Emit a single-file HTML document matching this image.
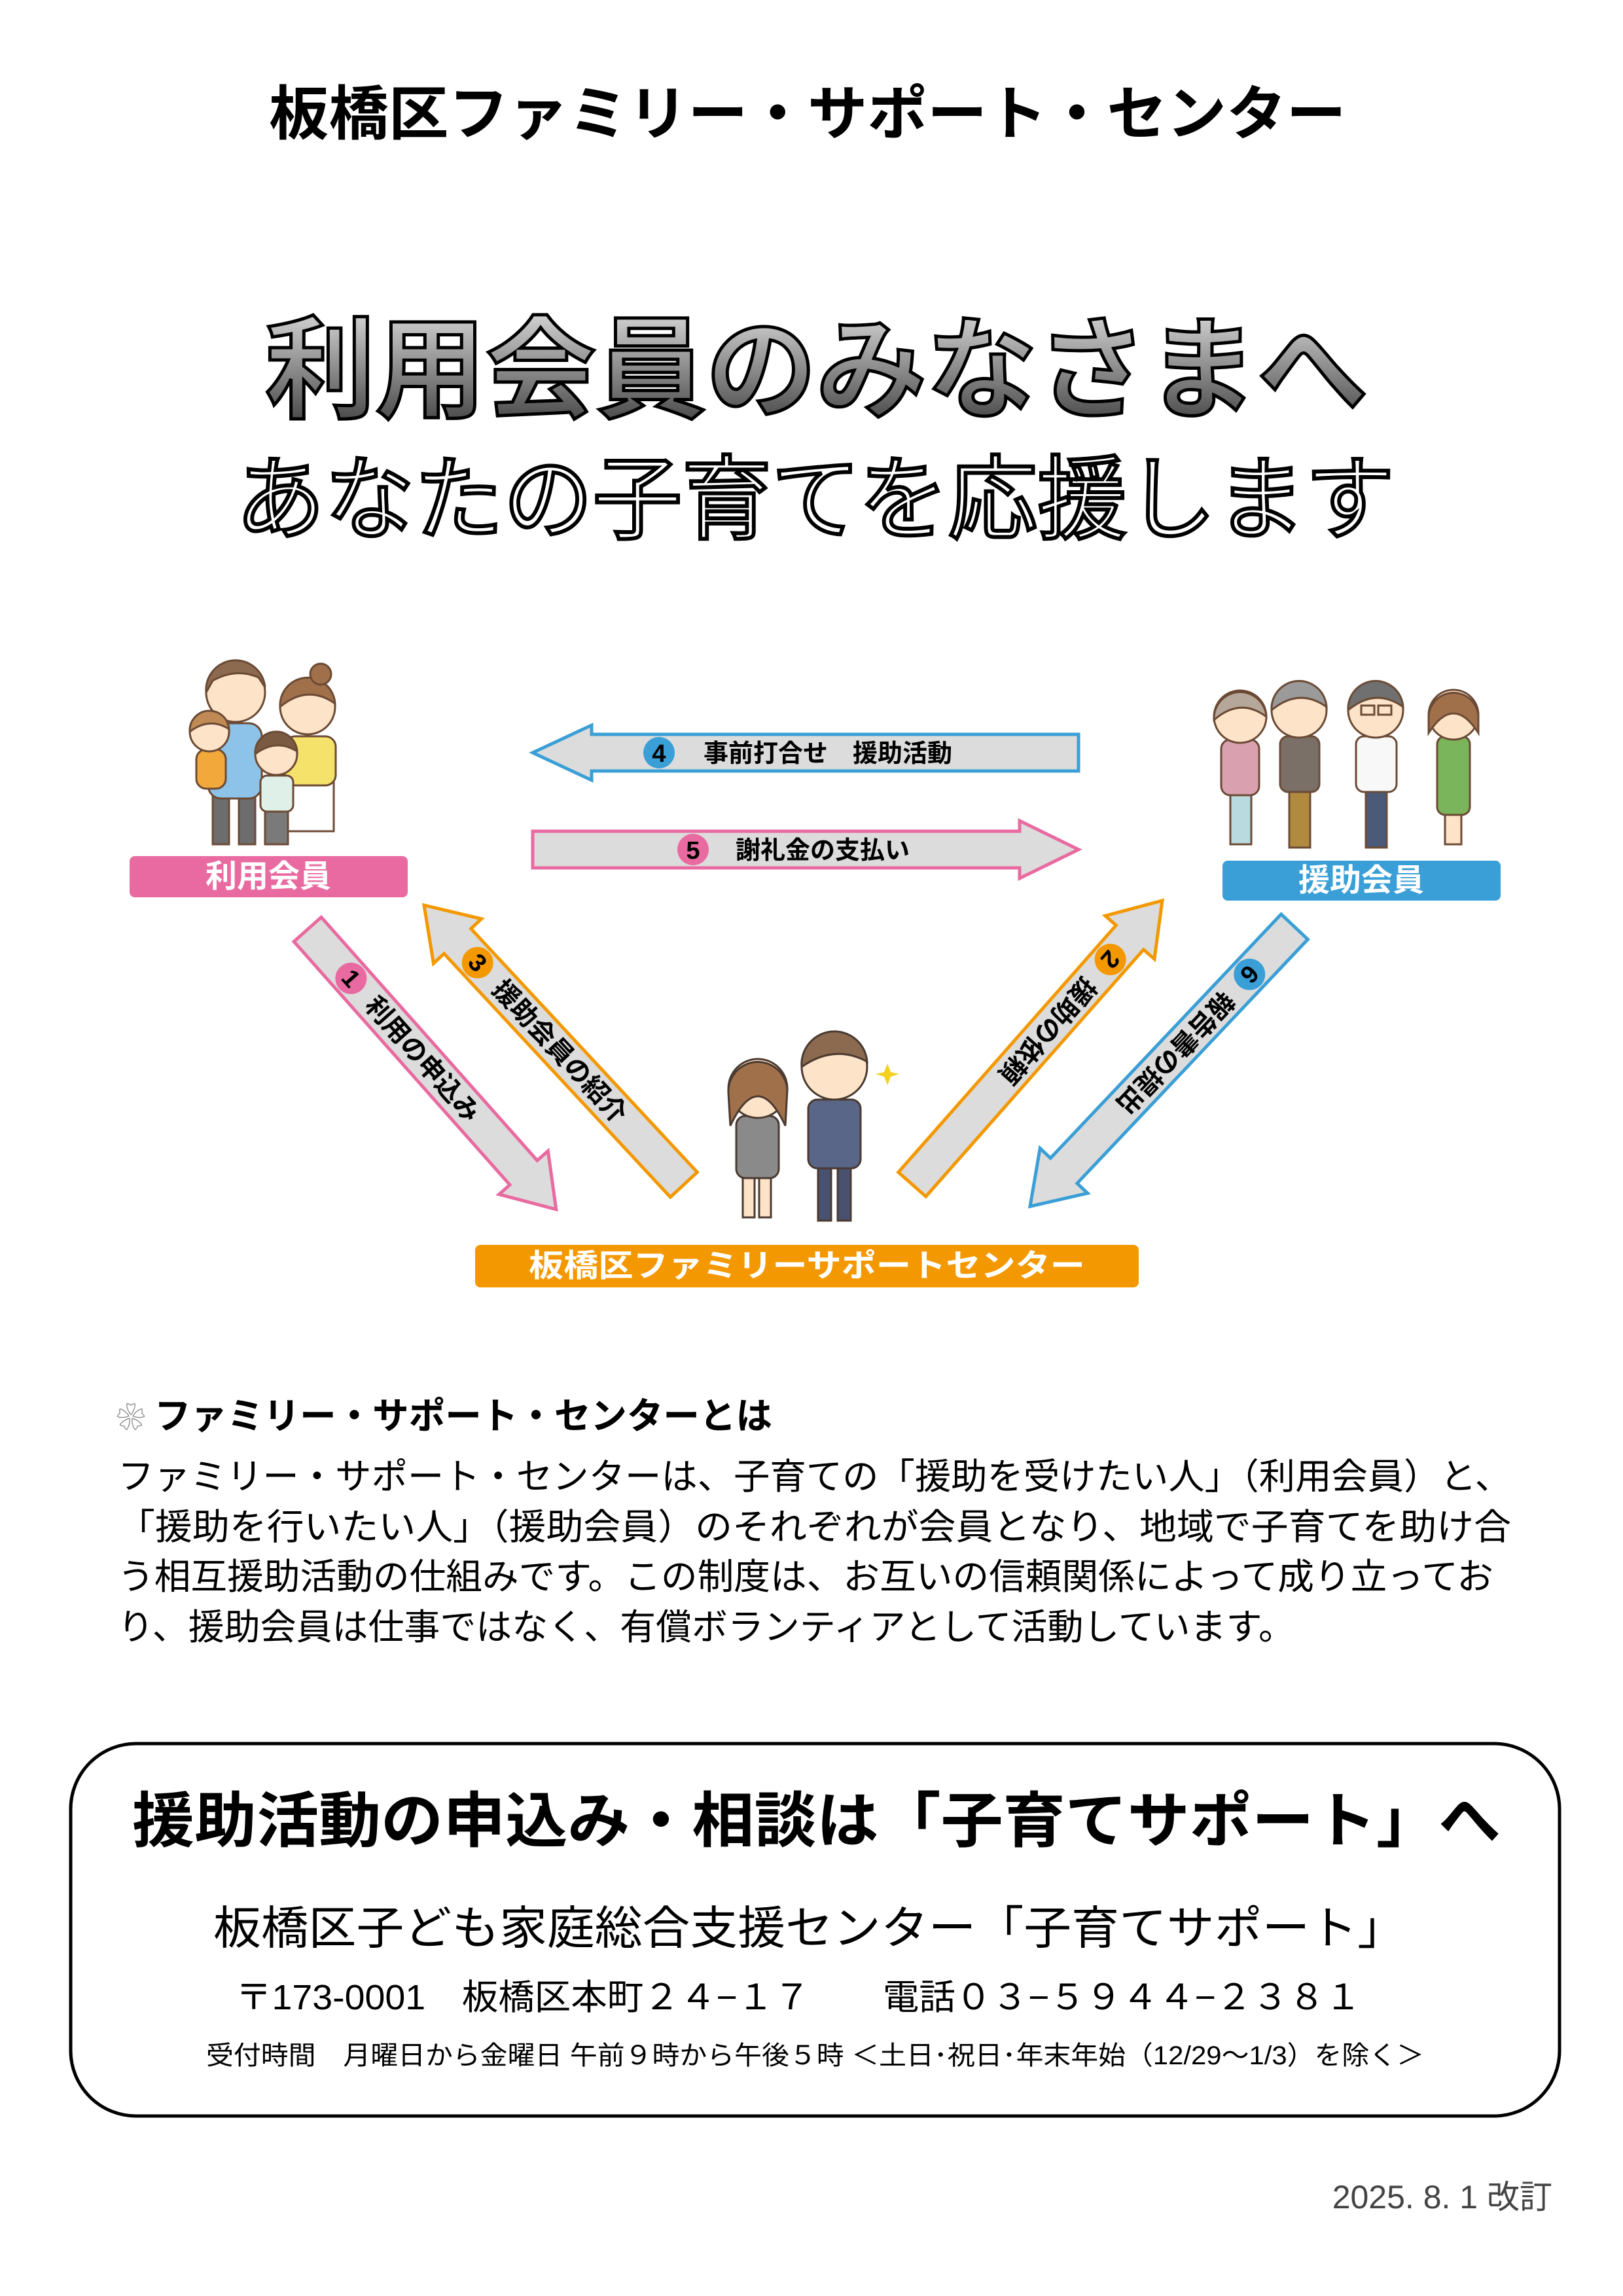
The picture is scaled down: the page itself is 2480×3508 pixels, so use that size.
<!DOCTYPE html>
<html><head><meta charset="utf-8">
<style>
html,body{margin:0;padding:0;background:#fff;}
svg{display:block;}
text{font-family:"Liberation Sans","Noto Sans CJK JP",sans-serif;}
</style></head>
<body>
<svg width="2480" height="3508" viewBox="0 0 2480 3508" xmlns="http://www.w3.org/2000/svg">
<defs>
<linearGradient id="tg" x1="0" y1="0" x2="0" y2="1">
<stop offset="0" stop-color="#d8d8d8"/><stop offset="1" stop-color="#3a3a3a"/>
</linearGradient>
</defs>
<rect width="2480" height="3508" fill="#fff"/>

<text x="1234" y="205" font-size="90" font-weight="bold" text-anchor="middle" textLength="1646" lengthAdjust="spacingAndGlyphs">板橋区ファミリー・サポート・センター</text>

<text x="405" y="625" font-size="170" font-weight="bold" fill="url(#tg)" stroke="#000" stroke-width="5" textLength="1685" lengthAdjust="spacingAndGlyphs">利用会員のみなさまへ</text>
<text x="360" y="812" font-size="140" fill="#fff" stroke="#000" stroke-width="6" textLength="1771" lengthAdjust="spacingAndGlyphs">あなたの子育てを応援します</text>

<polygon points="1648,1122 904,1122 904,1108 814,1150 904,1192 904,1178 1648,1178" fill="#dcdcdc" stroke="#3a9fd6" stroke-width="5"/>
<circle cx="1007" cy="1150" r="24" fill="#3a9fd6"/>
<text x="1007" y="1164" font-size="38" font-weight="bold" text-anchor="middle">4</text>
<text x="1075" y="1164" font-size="38" font-weight="bold">事前打合せ　援助活動</text>

<polygon points="814,1270 1558,1270 1558,1254 1648,1298 1558,1342 1558,1326 814,1326" fill="#dcdcdc" stroke="#e96aa0" stroke-width="5"/>
<circle cx="1059" cy="1298" r="24" fill="#e96aa0"/>
<text x="1059" y="1312" font-size="38" font-weight="bold" text-anchor="middle">5</text>
<text x="1124" y="1312" font-size="38" font-weight="bold">謝礼金の支払い</text>

<g transform="translate(470,1420) rotate(48.4)">
<polygon points="0,-28 497,-28 497,-50 572,0 497,50 497,28 0,28" fill="#dcdcdc" stroke="#e96aa0" stroke-width="5"/>
<circle cx="100" cy="0" r="24" fill="#e96aa0"/>
<text x="100" y="13" font-size="38" font-weight="bold" text-anchor="middle">1</text>
<text x="145" y="14" font-size="40" font-weight="bold">利用の申込み</text>
</g>
<g transform="translate(648,1383) rotate(47.1)">
<polygon points="0,0 75,-50 75,-28 583,-28 583,28 75,28 75,50" fill="#dcdcdc" stroke="#f39800" stroke-width="5"/>
<circle cx="120" cy="0" r="24" fill="#f39800"/>
<text x="120" y="13" font-size="38" font-weight="bold" text-anchor="middle">3</text>
<text x="165" y="14" font-size="40" font-weight="bold">援助会員の紹介</text>
</g>
<g transform="translate(1776,1376) rotate(131.4)">
<polygon points="0,0 75,-50 75,-28 578,-28 578,28 75,28 75,50" fill="#dcdcdc" stroke="#f39800" stroke-width="5"/>
<circle cx="120" cy="0" r="24" fill="#f39800"/>
<text x="120" y="13" font-size="38" font-weight="bold" text-anchor="middle">2</text>
<text x="165" y="14" font-size="40" font-weight="bold">援助の依頼</text>
</g>
<g transform="translate(1978,1416) rotate(133.4)">
<polygon points="0,-28 513,-28 513,-50 588,0 513,50 513,28 0,28" fill="#dcdcdc" stroke="#3a9fd6" stroke-width="5"/>
<circle cx="100" cy="0" r="24" fill="#3a9fd6"/>
<text x="100" y="13" font-size="38" font-weight="bold" text-anchor="middle">6</text>
<text x="145" y="14" font-size="40" font-weight="bold">報告書の提出</text>
</g>

<rect x="198" y="1308" width="425" height="63" rx="8" fill="#e96aa0"/>
<text x="410" y="1355" font-size="48" font-weight="bold" fill="#fff" text-anchor="middle">利用会員</text>
<rect x="1868" y="1315" width="425" height="61" rx="8" fill="#3a9fd6"/>
<text x="2080" y="1361" font-size="48" font-weight="bold" fill="#fff" text-anchor="middle">援助会員</text>
<rect x="726" y="1902" width="1014" height="65" rx="8" fill="#f39800"/>
<text x="1233" y="1950" font-size="48" font-weight="bold" fill="#fff" text-anchor="middle" textLength="850" lengthAdjust="spacingAndGlyphs">板橋区ファミリーサポートセンター</text>

<g stroke="#6b4a35" stroke-width="3">
<rect x="325" y="1210" width="25" height="80" fill="#6d6d6d"/><rect x="365" y="1210" width="25" height="80" fill="#6d6d6d"/>
<rect x="318" y="1105" width="82" height="115" rx="20" fill="#8dc3e8"/>
<circle cx="360" cy="1058" r="45" fill="#fde3c8"/>
<path d="M315,1058 A45,45 0 0 1 405,1050 L395,1035 Q360,1020 325,1040 Z" fill="#8b6a4f"/>
<rect x="440" y="1195" width="70" height="75" fill="#fff"/>
<rect x="435" y="1125" width="78" height="75" rx="16" fill="#f5e26a"/>
<circle cx="470" cy="1080" r="42" fill="#fde3c8"/>
<path d="M428,1080 A42,42 0 0 1 512,1075 Q470,1045 428,1080 Z" fill="#a0704a"/>
<circle cx="490" cy="1030" r="16" fill="#a0704a"/>
<rect x="300" y="1145" width="45" height="60" rx="15" fill="#f2a83a"/>
<circle cx="320" cy="1118" r="30" fill="#fde3c8"/>
<path d="M290,1118 A30,30 0 0 1 350,1114 Q320,1095 290,1118 Z" fill="#c08a55"/>
<rect x="405" y="1235" width="35" height="55" fill="#7a7a7a"/>
<rect x="398" y="1185" width="50" height="55" rx="10" fill="#dff0e8"/>
<circle cx="422" cy="1152" r="32" fill="#fde3c8"/>
<path d="M390,1152 A32,32 0 0 1 454,1148 Q422,1128 390,1152 Z" fill="#7a5a40"/>
</g>

<g stroke="#6b4a35" stroke-width="3">
<rect x="1880" y="1210" width="32" height="80" fill="#b9dbe0"/>
<rect x="1866" y="1130" width="58" height="85" rx="14" fill="#d9a0b0"/>
<circle cx="1895" cy="1095" r="40" fill="#fde3c8"/>
<path d="M1855,1100 A40,40 0 0 1 1935,1095 Q1895,1065 1855,1100 Z" fill="#b5a89a"/>
<rect x="1970" y="1200" width="32" height="95" fill="#b08a3e"/>
<rect x="1956" y="1125" width="60" height="85" rx="12" fill="#7a7068"/>
<circle cx="1985" cy="1085" r="42" fill="#fde3c8"/>
<path d="M1943,1085 A42,42 0 0 1 2027,1080 Q1985,1050 1943,1085 Z" fill="#9a9a9a"/>
<rect x="2087" y="1200" width="32" height="95" fill="#4a5a78"/>
<rect x="2072" y="1125" width="62" height="85" rx="12" fill="#f8f8f8"/>
<circle cx="2102" cy="1085" r="42" fill="#fde3c8"/>
<path d="M2060,1085 A42,42 0 0 1 2144,1080 Q2102,1050 2060,1085 Z" fill="#707070"/>
<rect x="2080" y="1078" width="20" height="14" fill="none"/><rect x="2106" y="1078" width="20" height="14" fill="none"/>
<rect x="2196" y="1125" width="50" height="120" rx="12" fill="#7ab55c"/>
<rect x="2208" y="1245" width="25" height="45" fill="#fde3c8"/>
<circle cx="2221" cy="1092" r="38" fill="#fde3c8"/>
<path d="M2183,1098 A38,38 0 0 1 2259,1095 L2259,1120 Q2221,1060 2183,1120 Z" fill="#a0704a"/>
</g>

<g stroke="#4a3a30" stroke-width="3">
<rect x="1135" y="1790" width="18" height="70" fill="#fde3c8"/><rect x="1160" y="1790" width="18" height="70" fill="#fde3c8"/>
<rect x="1125" y="1705" width="65" height="95" rx="14" fill="#8a8a8a"/>
<circle cx="1158" cy="1663" r="45" fill="#fde3c8"/>
<path d="M1113,1670 A45,45 0 0 1 1203,1665 L1200,1720 Q1158,1630 1116,1720 Z" fill="#a0704a"/>
<rect x="1250" y="1770" width="20" height="95" fill="#4a5070"/><rect x="1280" y="1770" width="20" height="95" fill="#4a5070"/>
<rect x="1235" y="1680" width="80" height="105" rx="14" fill="#5a6688"/>
<circle cx="1275" cy="1630" r="50" fill="#fde3c8"/>
<path d="M1225,1630 A50,50 0 0 1 1325,1622 Q1275,1595 1225,1630 Z" fill="#8b6a4f"/>
</g>
<path d="M1356,1625 L1361,1638 L1374,1641 L1361,1645 L1356,1658 L1351,1645 L1338,1641 L1351,1638 Z" fill="#f5d020"/>

<text x="178" y="2181" font-size="44" fill="#888">❀</text>
<text x="236" y="2183" font-size="56" font-weight="bold" textLength="944" lengthAdjust="spacingAndGlyphs">ファミリー・サポート・センターとは</text>
<g font-size="55">
<text x="180" y="2275" textLength="2129" lengthAdjust="spacingAndGlyphs">ファミリー・サポート・センターは、子育ての「援助を受けたい人」（利用会員）と、</text>
<text x="180" y="2352" textLength="2129" lengthAdjust="spacingAndGlyphs">「援助を行いたい人」（援助会員）のそれぞれが会員となり、地域で子育てを助け合</text>
<text x="180" y="2428" textLength="2102" lengthAdjust="spacingAndGlyphs">う相互援助活動の仕組みです。この制度は、お互いの信頼関係によって成り立ってお</text>
<text x="180" y="2505" textLength="1798" lengthAdjust="spacingAndGlyphs">り、援助会員は仕事ではなく、有償ボランティアとして活動しています。</text>
</g>

<rect x="108" y="2664" width="2275" height="569" rx="100" fill="none" stroke="#000" stroke-width="5"/>
<text x="202" y="2814" font-size="92" font-weight="bold" textLength="2091" lengthAdjust="spacingAndGlyphs">援助活動の申込み・相談は「子育てサポート」へ</text>
<text x="326" y="2970" font-size="70" textLength="1821" lengthAdjust="spacingAndGlyphs">板橋区子ども家庭総合支援センター「子育てサポート」</text>
<text x="360" y="3070" font-size="54" textLength="1720" lengthAdjust="spacingAndGlyphs">〒173-0001　板橋区本町２４−１７　　電話０３−５９４４−２３８１</text>
<text x="315" y="3154" font-size="40" textLength="1861" lengthAdjust="spacingAndGlyphs">受付時間　月曜日から金曜日 午前９時から午後５時 ＜土日･祝日･年末年始（12/29〜1/3）を除く＞</text>

<text x="2372" y="3374" font-size="50" fill="#444" text-anchor="end">2025. 8. 1 改訂</text>
</svg>
</body></html>
